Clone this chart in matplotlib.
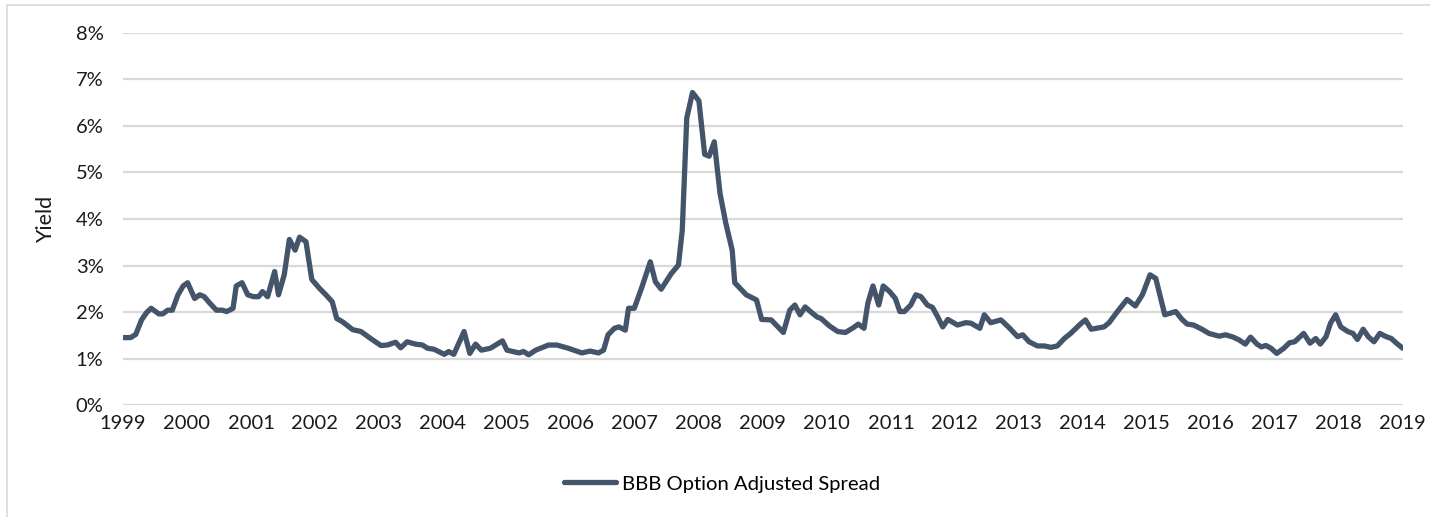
import matplotlib.pyplot as plt
from matplotlib.patches import Rectangle
from matplotlib.ticker import FuncFormatter

plt.rcParams['font.family'] = ['Lato', 'DejaVu Sans']

# dates as fractional years, spread in percent
dates = [1999.00, 1999.12, 1999.20, 1999.29, 1999.37, 1999.44, 1999.56, 1999.62, 1999.70, 1999.77,
         1999.86, 1999.94, 2000.01, 2000.12, 2000.20, 2000.27, 2000.35, 2000.46, 2000.55, 2000.62,
         2000.72, 2000.77, 2000.86, 2000.95, 2001.04, 2001.12, 2001.18, 2001.26, 2001.37, 2001.43,
         2001.52, 2001.60, 2001.69, 2001.76, 2001.86, 2001.95, 2002.07, 2002.17, 2002.27, 2002.34,
         2002.43, 2002.59, 2002.72, 2002.87, 2003.03, 2003.13, 2003.26, 2003.34, 2003.44, 2003.57,
         2003.68, 2003.76, 2003.86, 2004.02, 2004.09, 2004.17, 2004.33, 2004.42, 2004.51, 2004.60,
         2004.74, 2004.93, 2005.00, 2005.19, 2005.26, 2005.34, 2005.45, 2005.65, 2005.78, 2005.96,
         2006.17, 2006.30, 2006.43, 2006.51, 2006.58, 2006.68, 2006.75, 2006.85, 2006.90, 2006.99,
         2007.11, 2007.24, 2007.32, 2007.41, 2007.57, 2007.68, 2007.74, 2007.81, 2007.90, 2008.00,
         2008.09, 2008.16, 2008.24, 2008.33, 2008.42, 2008.52, 2008.56, 2008.67, 2008.74, 2008.90,
         2008.98, 2009.13, 2009.32, 2009.42, 2009.50, 2009.58, 2009.66, 2009.76, 2009.85, 2009.91,
         2010.04, 2010.17, 2010.29, 2010.41, 2010.49, 2010.58, 2010.64, 2010.72, 2010.81, 2010.88,
         2010.98, 2011.07, 2011.14, 2011.21, 2011.31, 2011.39, 2011.47, 2011.57, 2011.65, 2011.73,
         2011.81, 2011.89, 2012.04, 2012.17, 2012.25, 2012.39, 2012.46, 2012.56, 2012.72, 2012.85,
         2012.98, 2013.06, 2013.16, 2013.29, 2013.40, 2013.50, 2013.60, 2013.71, 2013.81, 2013.96,
         2014.04, 2014.13, 2014.33, 2014.41, 2014.54, 2014.69, 2014.82, 2014.93, 2015.05, 2015.14,
         2015.21, 2015.28, 2015.45, 2015.55, 2015.63, 2015.73, 2015.86, 2015.97, 2016.13, 2016.23,
         2016.35, 2016.44, 2016.54, 2016.62, 2016.72, 2016.79, 2016.86, 2016.94, 2017.03, 2017.14,
         2017.23, 2017.31, 2017.45, 2017.55, 2017.64, 2017.71, 2017.80, 2017.87, 2017.95, 2018.03,
         2018.14, 2018.22, 2018.29, 2018.38, 2018.46, 2018.55, 2018.64, 2018.74, 2018.82, 2018.90,
         2019.00]
spread = [1.45, 1.45, 1.52, 1.83, 1.99, 2.08, 1.96, 1.96, 2.04, 2.04,
          2.37, 2.56, 2.63, 2.29, 2.37, 2.33, 2.20, 2.04, 2.04, 2.01,
          2.08, 2.56, 2.63, 2.37, 2.33, 2.33, 2.44, 2.33, 2.87, 2.37,
          2.80, 3.56, 3.33, 3.61, 3.51, 2.70, 2.51, 2.37, 2.22, 1.86,
          1.79, 1.62, 1.58, 1.43, 1.28, 1.29, 1.35, 1.23, 1.36, 1.31,
          1.29, 1.22, 1.20, 1.09, 1.15, 1.09, 1.58, 1.11, 1.31, 1.18,
          1.22, 1.38, 1.18, 1.12, 1.15, 1.08, 1.18, 1.29, 1.29, 1.22,
          1.12, 1.16, 1.12, 1.18, 1.51, 1.65, 1.68, 1.61, 2.08, 2.08,
          2.54, 3.08, 2.65, 2.49, 2.83, 3.01, 3.76, 6.17, 6.72, 6.54,
          5.39, 5.35, 5.66, 4.55, 3.91, 3.33, 2.63, 2.47, 2.37, 2.26,
          1.84, 1.83, 1.56, 2.04, 2.15, 1.94, 2.11, 1.99, 1.89, 1.86,
          1.70, 1.58, 1.56, 1.66, 1.74, 1.65, 2.19, 2.56, 2.15, 2.56,
          2.44, 2.29, 2.01, 2.01, 2.15, 2.37, 2.33, 2.15, 2.10, 1.90,
          1.68, 1.84, 1.72, 1.77, 1.76, 1.65, 1.94, 1.77, 1.83, 1.66,
          1.47, 1.51, 1.36, 1.27, 1.27, 1.24, 1.27, 1.43, 1.54, 1.74,
          1.83, 1.63, 1.68, 1.77, 2.01, 2.27, 2.13, 2.37, 2.80, 2.72,
          2.33, 1.94, 2.01, 1.84, 1.74, 1.72, 1.63, 1.54, 1.48, 1.51,
          1.46, 1.40, 1.31, 1.46, 1.31, 1.25, 1.28, 1.22, 1.11, 1.22,
          1.34, 1.36, 1.54, 1.33, 1.43, 1.31, 1.47, 1.76, 1.94, 1.68,
          1.58, 1.54, 1.41, 1.63, 1.47, 1.36, 1.54, 1.47, 1.43, 1.33,
          1.22]
years = list(range(1999, 2020))
yticks = list(range(0, 9))

fig = plt.figure(figsize=(14.3, 5.17), dpi=100)
ax = fig.add_axes([0.086, 0.2166, 0.895, 0.7196])

ax.plot(dates, spread, color='#44546A', lw=3.8, solid_joinstyle='round',
        solid_capstyle='round', label='BBB Option Adjusted Spread')

ax.set_xlim(1999, 2019)
ax.set_ylim(0, 8)
ax.set_xticks(years)
ax.set_yticks(yticks)
ax.yaxis.set_major_formatter(FuncFormatter(lambda v, p: f'{v:.0f}%'))
ax.grid(axis='y', color='#d9d9d9', lw=1.6)
ax.set_axisbelow(True)
for s in ax.spines.values():
    s.set_visible(False)
ax.tick_params(axis='both', length=0, labelsize=14.5, colors='#1a1a1a')
ax.tick_params(axis='x', pad=7)
ax.tick_params(axis='y', pad=14)
ax.set_ylabel('Yield', fontsize=15.5, color='#1a1a1a', labelpad=14)

fig.legend(loc='center', bbox_to_anchor=(0.505, 0.064), frameon=False,
           fontsize=14.6, handlelength=2.6, handletextpad=0.3)

# light frame around the chart area
fig.patches.append(Rectangle((0.005, -0.05), 1.2, 1.04, transform=fig.transFigure,
                             fill=False, edgecolor='#d9d9d9', lw=1.2))

fig.savefig('out.png', dpi=100)
